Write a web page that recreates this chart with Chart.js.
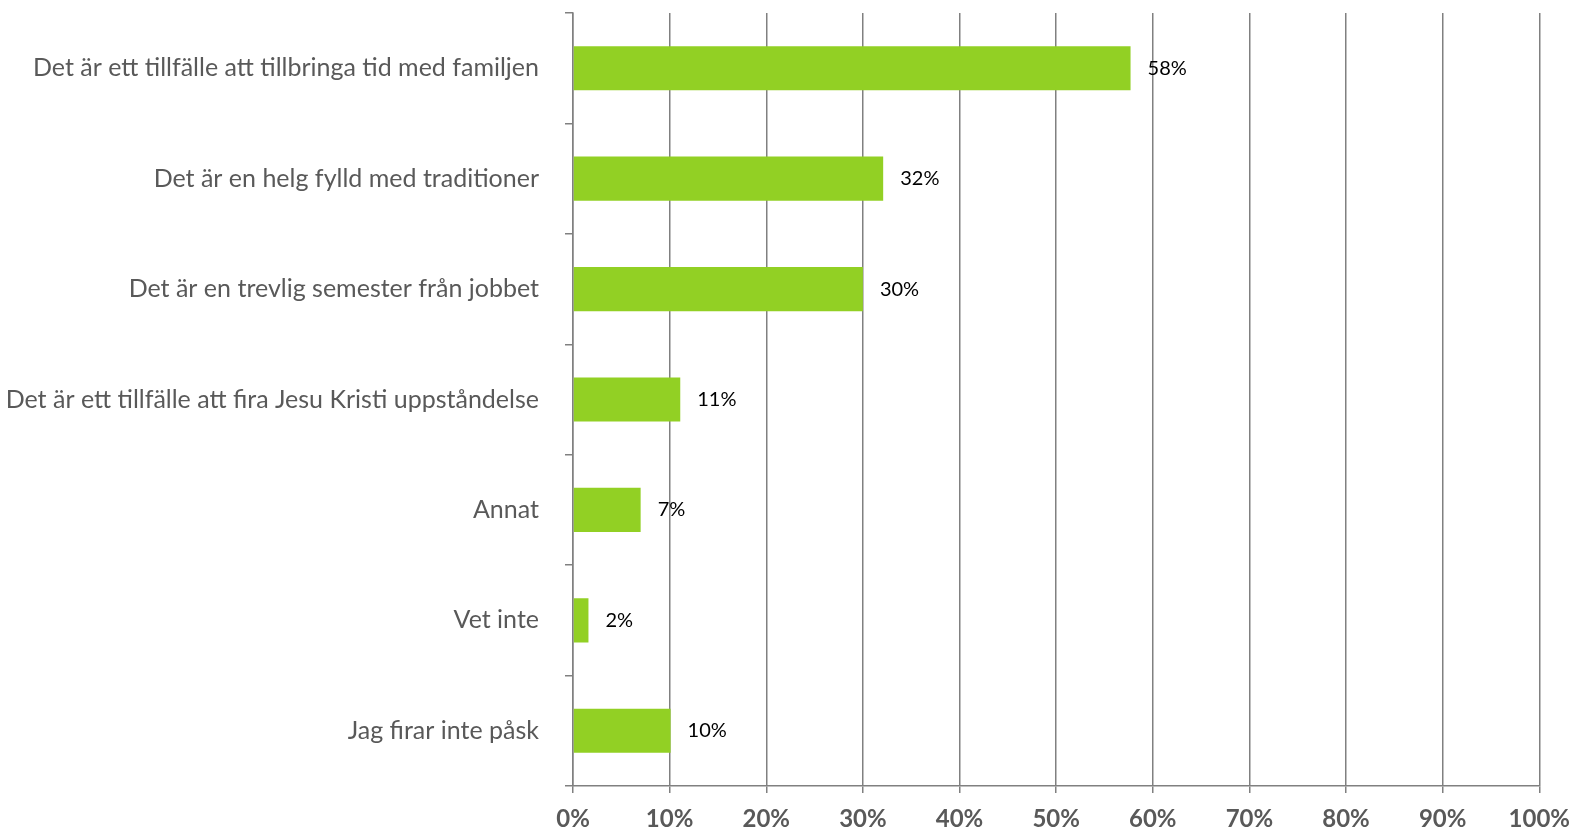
<!doctype html>
<html lang="sv">
  <head>
    <meta charset="utf-8">
    <title>Påsk</title>
    <style>
        body{
            margin: 0;
            background: #fff;
        }
    </style>
  </head>
  <body>
    <canvas id="myChart_Bar" width="1582" height="832"></canvas>

    <script src="https://cdn.jsdelivr.net/npm/chart.js"></script>
    <script>
        const categories = [
            'Det är ett tillfälle att tillbringa tid med familjen',
            'Det är en helg fylld med traditioner',
            'Det är en trevlig semester från jobbet',
            'Det är ett tillfälle att fira Jesu Kristi uppståndelse',
            'Annat',
            'Vet inte',
            'Jag firar inte påsk'
        ];
        const values = [57.7, 32.1, 30.0, 11.1, 7.0, 1.6, 10.1];
        const xTicks = [0, 10, 20, 30, 40, 50, 60, 70, 80, 90, 100];

        // etiketter till höger om staplarna
        const barLabels = {
            id: 'barLabels',
            afterDatasetsDraw(chart){
                const ctx = chart.ctx;
                const meta = chart.getDatasetMeta(0);
                ctx.save();
                ctx.font = '20px Lato';
                ctx.fillStyle = '#000';
                ctx.textAlign = 'left';
                ctx.textBaseline = 'middle';
                meta.data.forEach(function(bar, i){
                    ctx.fillText(Math.round(values[i]) + '%', bar.x + 17, bar.y);
                });
                ctx.restore();
            }
        };

        const data = {
            labels: categories,
            datasets: [{
                data: values,
                backgroundColor: '#92d024',
                barPercentage: 0.4,
                categoryPercentage: 1.0
            }]
        };

        const config = {
            type: 'bar',
            data: data,
            options: {
                indexAxis: 'y',
                responsive: false,
                animation: false,
                layout: {
                    padding: {top: 13, right: 33, left: 0, bottom: 0}
                },
                plugins: {
                    legend: {display: false},
                    tooltip: {enabled: false}
                },
                scales: {
                    x: {
                        min: 0,
                        max: 100,
                        afterBuildTicks: function(axis){
                            axis.ticks = xTicks.map(function(v){ return {value: v}; });
                        },
                        afterFit: function(axis){
                            axis.height = 46;
                        },
                        ticks: {
                            callback: function(v){ return v + '%'; },
                            color: '#595959',
                            font: {family: 'Lato', size: 24, weight: 'bold'},
                            padding: 12,
                            maxRotation: 0
                        },
                        grid: {
                            color: '#808080',
                            lineWidth: 1.5,
                            tickLength: 7
                        },
                        border: {color: '#808080', width: 1.5}
                    },
                    y: {
                        offset: true,
                        afterFit: function(axis){
                            axis.width = 573;
                            axis.paddingTop = 0;
                            axis.paddingBottom = 0;
                        },
                        ticks: {
                            color: '#595959',
                            font: {family: 'Lato', size: 25},
                            padding: 26
                        },
                        grid: {
                            offset: true,
                            drawOnChartArea: false,
                            color: '#808080',
                            lineWidth: 1.5,
                            tickLength: 8
                        },
                        border: {color: '#808080', width: 1.5}
                    }
                }
            },
            plugins: [barLabels]
        };

        const myChart = new Chart(
            document.getElementById('myChart_Bar'),
            config
        );
    </script>
  </body>
</html>
